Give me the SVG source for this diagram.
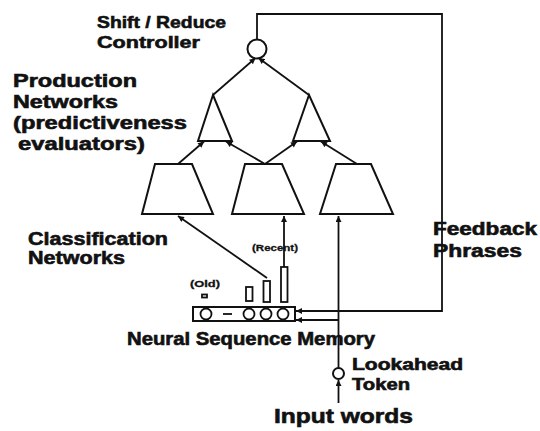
<svg xmlns="http://www.w3.org/2000/svg" width="540" height="431" viewBox="0 0 540 431">
<defs>
<marker id="ah" viewBox="0 0 10 10" refX="10" refY="5" markerWidth="7" markerHeight="6" orient="auto" markerUnits="userSpaceOnUse">
<path d="M0,0 L10,5 L0,10 z" fill="#111"/>
</marker>
<style>
.s{fill:none;stroke:#111;stroke-width:2;stroke-linejoin:miter}
.w{fill:#fff;stroke:#111;stroke-width:2}
.c{fill:none;stroke:#111;stroke-width:1.8;marker-end:url(#ah)}
.p{fill:none;stroke:#111;stroke-width:1.8}
.t{font-family:"Liberation Sans",Arial,sans-serif;font-weight:bold;fill:#111;stroke:#111;stroke-width:0.6}
.l{font-size:17px}
.m{font-size:9.5px;stroke-width:0.3}
</style>
</defs>
<rect width="540" height="431" fill="#fff"/>

<g id="connectors">
<line class="c" x1="213" y1="95" x2="255.5" y2="58"/>
<line class="c" x1="309" y1="95" x2="258.5" y2="58"/>
<line class="c" x1="178" y1="164" x2="204" y2="141.5"/>
<line class="c" x1="265" y1="164" x2="226" y2="141.5"/>
<line class="c" x1="265" y1="164" x2="297" y2="141.5"/>
<line class="c" x1="357" y1="164" x2="321" y2="141.5"/>
<line class="c" x1="267" y1="278" x2="178" y2="216"/>
<line class="c" x1="284" y1="267" x2="284" y2="216"/>
<line class="c" x1="338.5" y1="368" x2="338.5" y2="216"/>
<line class="c" x1="338.5" y1="320" x2="296" y2="320"/>
<polyline class="c" points="257,39.5 257,14 442,14 442,311 296,311"/>
<line class="c" x1="338.5" y1="403" x2="338.5" y2="380"/>
</g>

<g id="controller">
<circle class="w" cx="257" cy="49" r="9.5"/>
<text class="t l" x="97" y="28" textLength="129" lengthAdjust="spacingAndGlyphs">Shift / Reduce</text>
<text class="t l" x="97" y="48" textLength="103" lengthAdjust="spacingAndGlyphs">Controller</text>
</g>

<g id="production">
<polygon class="s" points="213,95 198,141 232,141"/>
<polygon class="s" points="309,95 293,141 330,141"/>
<text class="t" font-size="18" x="13" y="87" textLength="124" lengthAdjust="spacingAndGlyphs">Production</text>
<text class="t" font-size="18" x="13" y="108" textLength="105" lengthAdjust="spacingAndGlyphs">Networks</text>
<text class="t" font-size="18" x="13" y="129" textLength="174" lengthAdjust="spacingAndGlyphs">(predictiveness</text>
<text class="t" font-size="18" x="18" y="150" textLength="127" lengthAdjust="spacingAndGlyphs">evaluators)</text>
</g>

<g id="classification">
<polygon class="s" points="155,164 192,164 213,214 142,214"/>
<polygon class="s" points="245,164 282,164 304,214 232,214"/>
<polygon class="s" points="336,164 371,164 393,214 320,214"/>
<text class="t" font-size="18" x="28" y="245" textLength="140" lengthAdjust="spacingAndGlyphs">Classification</text>
<text class="t" font-size="18" x="28" y="264" textLength="97" lengthAdjust="spacingAndGlyphs">Networks</text>
</g>

<g id="memory">
<rect class="s" x="193" y="307" width="102" height="14"/>
<circle class="p" cx="206" cy="314" r="5.5"/>
<line class="p" x1="223" y1="314" x2="232" y2="314"/>
<circle class="p" cx="249" cy="314" r="5.5"/>
<circle class="p" cx="266" cy="314" r="5.5"/>
<circle class="p" cx="283" cy="314" r="5.5"/>
<rect class="p" x="202" y="294.5" width="5" height="3" stroke-width="1.2"/>
<rect class="p" x="246" y="287" width="6.5" height="14" stroke-width="1.5"/>
<rect class="p" x="263.5" y="281" width="6.5" height="21" stroke-width="1.5"/>
<rect class="p" x="281" y="267" width="6.5" height="35" stroke-width="1.5"/>
<text class="t m" x="190" y="287" textLength="30" lengthAdjust="spacingAndGlyphs">(Old)</text>
<text class="t m" x="252" y="251" textLength="46" lengthAdjust="spacingAndGlyphs">(Recent)</text>
<text class="t" font-size="18" x="127" y="345" textLength="248" lengthAdjust="spacingAndGlyphs">Neural Sequence Memory</text>
</g>

<g id="feedback">
<text class="t" font-size="18" x="433" y="235" textLength="104" lengthAdjust="spacingAndGlyphs">Feedback</text>
<text class="t" font-size="18" x="433" y="257" textLength="89" lengthAdjust="spacingAndGlyphs">Phrases</text>
</g>

<g id="lookahead">
<circle class="w" cx="338.5" cy="373.5" r="5.5" stroke-width="1.8"/>
<text class="t" font-size="16" x="352" y="370" textLength="111" lengthAdjust="spacingAndGlyphs">Lookahead</text>
<text class="t" font-size="16" x="352" y="390" textLength="58" lengthAdjust="spacingAndGlyphs">Token</text>
</g>

<g id="input">
<text class="t" font-size="20" x="274" y="423" textLength="139" lengthAdjust="spacingAndGlyphs">Input words</text>
</g>
</svg>
